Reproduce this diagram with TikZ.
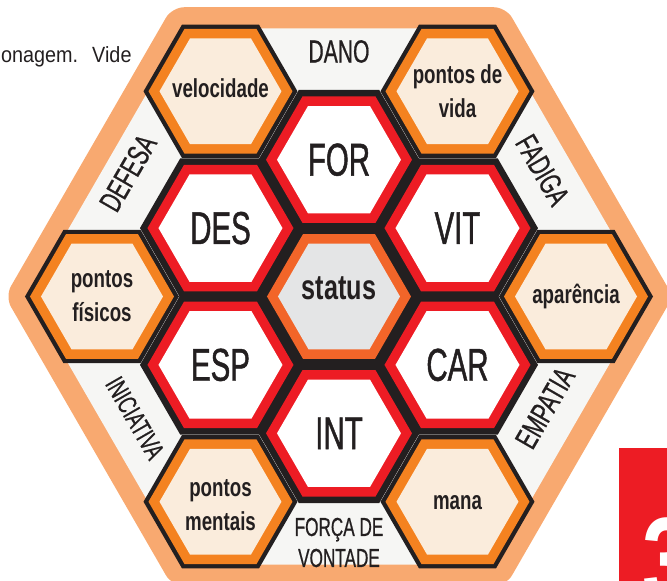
\documentclass[tikz,border=0pt]{standalone}
\usepackage{fontspec}
\usetikzlibrary{shapes.geometric}

\setmainfont{Liberation Sans}
\newfontfamily\bodyfont{Liberation Sans}[FakeStretch=0.9]
\newfontfamily\attrfont{Liberation Sans}[FakeStretch=0.64, FakeBold=1]
\newfontfamily\tagfont{Liberation Sans}[FakeStretch=0.72]
\newfontfamily\bandfont{Liberation Sans}[FakeStretch=0.66, FakeBold=0.6]
\newfontfamily\tabfont{Liberation Sans}[FakeStretch=0.75]

\definecolor{ink}{RGB}{35,31,32}
\definecolor{bandorange}{RGB}{248,169,112}
\definecolor{bandgray}{RGB}{246,246,244}
\definecolor{attrred}{RGB}{237,28,36}
\definecolor{tagorange}{RGB}{244,130,32}
\definecolor{tagcream}{RGB}{250,236,220}
\definecolor{statusring}{RGB}{242,101,41}
\definecolor{statusgray}{RGB}{228,229,230}

\begin{document}
\begin{tikzpicture}[x=1pt, y=1pt,
  hex/.style={regular polygon, regular polygon sides=6, inner sep=0pt, outer sep=0pt, minimum size=#1},
  cellbase/.style={hex=#1, fill=ink},
  attrtext/.style={text=ink, inner sep=0pt, font=\attrfont\fontsize{46}{46}\selectfont},
  tagtext/.style={text=ink, align=center, inner sep=0pt, font=\tagfont\bfseries\fontsize{26}{34}\selectfont},
  bandtag/.style={text=ink, align=center, inner sep=0pt, font=\bandfont\fontsize{31}{31}\selectfont}]
\useasboundingbox (-339,-284.5) rectangle (328,296.5);
\clip (-339,-284.5) rectangle (328,296.5);

% big frame and the field behind the cells
\node[hex=668pt, fill=bandorange, rounded corners=12pt] (frame) at (0,0) {};
\node[hex=619pt, fill=bandgray] (field) at (0,0) {};

% attributes
\foreach \n/\x/\y/\t in {for/0/136.8/FOR, des/-118.5/68.4/DES, vit/118.5/68.4/VIT,
    esp/-118.5/-68.4/ESP, car/118.5/-68.4/CAR, int/0/-136.8/INT}{
  \node[cellbase=161pt] (\n-base) at (\x,\y) {};
  \node[hex=146pt, fill=attrred] (\n-ring) at (\x,\y) {};
  \node[hex=124pt, fill=white] (\n-face) at (\x,\y) {};
  \node[attrtext] (\n) at (\x,\y) {\t};
}

% derived values
\foreach \n/\x/\y in {velo/-118.5/205.2, vida/118.5/205.2, fisico/-237/0,
    apar/237/0, mental/-118.5/-205.2, mana/118.5/-205.2}{
  \node[cellbase=154pt] (\n-base) at (\x,\y) {};
  \node[hex=144pt, fill=tagorange] (\n-ring) at (\x,\y) {};
  \node[hex=122pt, fill=tagcream] (\n-face) at (\x,\y) {};
}
\node[tagtext, anchor=base] (velo) at ([yshift=-6.7pt]velo-face.center) {velocidade};
\node[tagtext] (vida) at (vida-face) {pontos de\\vida};
\node[tagtext] (fisico) at (fisico-face) {pontos\\físicos};
\node[tagtext, anchor=base] (apar) at ([yshift=-6.7pt]apar-face.center) {aparência};
\node[tagtext] (mental) at ([yshift=-3pt]mental-face.center) {pontos\\mentais};
\node[tagtext, anchor=base] (mana) at ([yshift=-8pt]mana-face.center) {mana};

% centre
\node[cellbase=161pt] (status-base) at (0,0) {};
\node[hex=144pt, fill=statusring] (status-ring) at (0,0) {};
\node[hex=122pt, fill=statusgray] (status-face) at (0,0) {};
\node[text=ink, inner sep=0pt, font=\tagfont\bfseries\fontsize{35}{35}\selectfont]
  (status) at (0,8) {status};

% words along the frame
\node[bandtag, font=\bandfont\fontsize{32}{32}\selectfont] (dano) at (90:245) {DANO};
\node[bandtag, rotate=-60] (fadiga) at (203.5,126.5) {FADIGA};
\node[bandtag, rotate=60] (empatia) at (206,-111.5) {EMPATIA};
\node[bandtag, font=\bandfont\fontsize{26}{31}\selectfont] (vontade) at (270:246) {FORÇA DE\\VONTADE};
\node[bandtag, rotate=-60, font=\bandfont\fontsize{27}{27}\selectfont] (iniciativa) at (-204,-121.5) {INICIATIVA};
\node[bandtag, rotate=60] (defesa) at (-211,123.5) {DEFESA};

% running text and page tab
\node[anchor=base west, inner sep=0pt, text=ink,
  font=\bodyfont\fontsize{22}{22}\selectfont] (runin) at (-338,233.5) {onagem.\hspace{14pt}Vide};
\node[anchor=north west, fill=attrred, inner sep=0pt, minimum width=50pt,
  minimum height=140pt] (tab) at (280,-151.5) {};
\node[anchor=north west, inner sep=0pt, text=white,
  font=\tabfont\bfseries\fontsize{120}{120}\selectfont] (tab-num) at ([xshift=23pt,yshift=-70pt]tab.north west) {3};
\end{tikzpicture}
\end{document}
